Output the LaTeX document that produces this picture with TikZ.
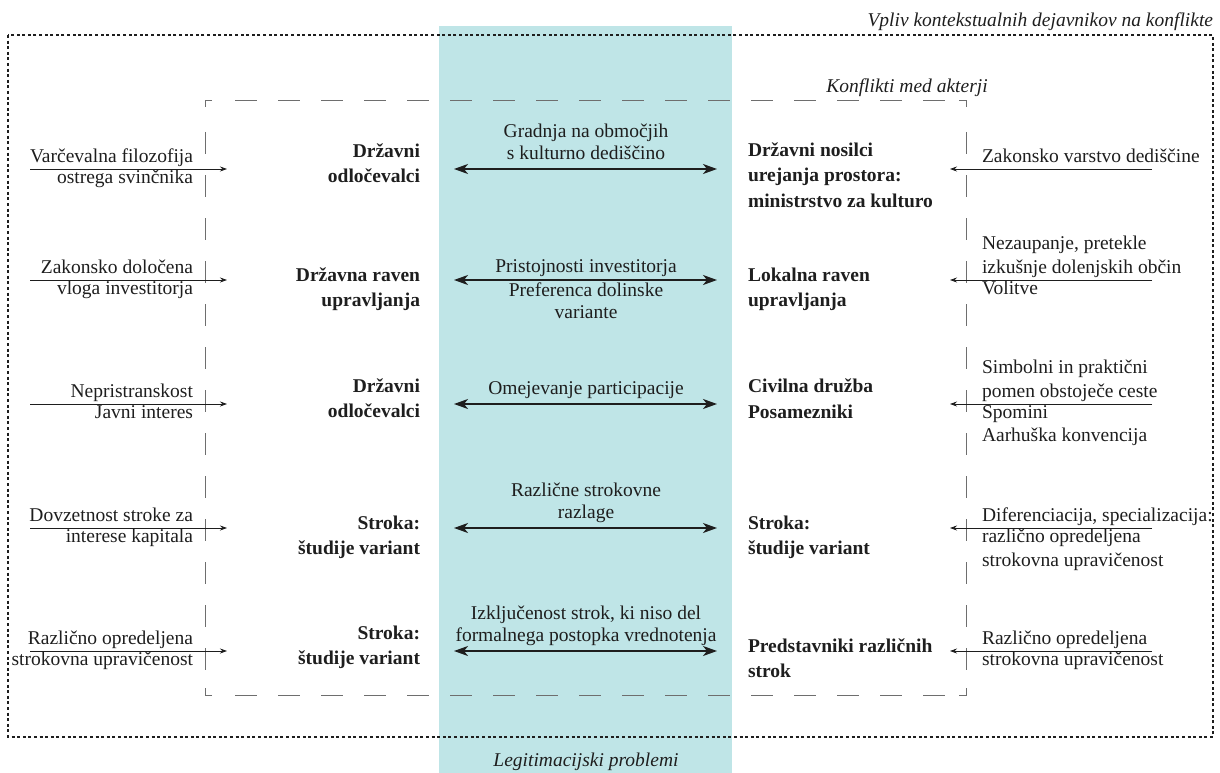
\documentclass[tikz,border=0pt]{standalone}
\usepackage{fontspec}
\setmainfont{Liberation Serif}
\usetikzlibrary{arrows.meta}
\definecolor{legit}{RGB}{191,229,231}
\definecolor{ink}{RGB}{30,30,30}
\definecolor{frame}{RGB}{110,110,110}
% fixed strut so that every line has the same height and depth
\newcommand\ks{\rule[-5pt]{0pt}{18pt}}
\begin{document}
\begin{tikzpicture}[x=1pt,y=-1pt,
  base/.style={inner sep=0pt,outer sep=0pt,text=ink,font=\fontsize{19.5}{23.5}\selectfont},
  lefttxt/.style={base,align=right},
  righttxt/.style={base,align=left},
  midtxt/.style={base,align=center,font=\fontsize{19.5}{22}\selectfont},
  actorL/.style={base,align=right,font=\fontsize{19.5}{25}\selectfont\bfseries},
  actorR/.style={base,align=left,font=\fontsize{19.5}{25.5}\selectfont\bfseries},
  heading/.style={base,font=\fontsize{19.5}{24}\selectfont\itshape},
  sidearrow/.style={draw=ink,line width=0.8pt,-{Stealth[length=7pt,width=5pt]}},
  twoway/.style={draw=ink,line width=1.6pt,{Stealth[length=14pt,width=10pt,inset=4pt]}-{Stealth[length=14pt,width=10pt,inset=4pt]}},
  dashside/.style={draw=frame,line width=0.8pt,dash pattern=on 22pt off 21pt},
  corner/.style={draw=frame,line width=0.8pt},
  dotframe/.style={draw=ink,line width=1.4pt,dash pattern=on 3pt off 2.6pt}
]
\useasboundingbox (0,0) rectangle (1220,773);

% central band: legitimacy problems
\fill[legit] (439,26) rectangle (732,773);
\node[heading,anchor=base] (legit) at (586,766) {Legitimacijski problemi};

% outer frame: contextual factors
\draw[dotframe] (8,35) rectangle (1213,737);
\node[heading,anchor=base east] (ctx) at (1213,27) {Vpliv kontekstualnih dejavnikov na konflikte};

% inner frame: conflicts between actors
\draw[corner] (212,100) -- (205,100) -- (205,107);
\draw[corner] (959,100) -- (966,100) -- (966,107);
\draw[corner] (212,695) -- (205,695) -- (205,688);
\draw[corner] (959,695) -- (966,695) -- (966,688);
\draw[dashside] (235,100) -- (945,100);
\draw[dashside] (235,695) -- (945,695);
\draw[dashside] (205,132) -- (205,680);
\draw[dashside] (966,132) -- (966,680);
\node[heading,anchor=base] (conf) at (907,93) {Konflikti med akterji};

% ---------------- row 1 ----------------
\coordinate (a1) at (30,169);  \coordinate (b1) at (227,169);
\coordinate (c1) at (454,169); \coordinate (d1) at (717,169);
\coordinate (e1) at (1152,169);\coordinate (f1) at (950,169);
\node[lefttxt,anchor=south east] (l1a) at (193,167) {Varčevalna filozofija\ks};
\node[lefttxt,anchor=north east] (l1b) at (193,170) {\ks ostrega svinčnika};
\node[actorL,anchor=north east] (p1) at (420,144) {\ks Državni\\\ks odločevalci};
\node[midtxt,anchor=south] (m1) at (586,164) {Gradnja na območjih\ks\\s kulturno dediščino\ks};
\node[actorR,anchor=north west] (q1) at (748,142.5) {\ks Državni nosilci\\\ks urejanja prostora:\\\ks ministrstvo za kulturo};
\node[righttxt,anchor=south west] (r1a) at (982,167) {Zakonsko varstvo dediščine\ks};
\draw[sidearrow] (a1) -- (b1);
\draw[twoway] (c1) -- (d1);
\draw[sidearrow] (e1) -- (f1);

% ---------------- row 2 ----------------
\coordinate (a2) at (30,280);  \coordinate (b2) at (227,280);
\coordinate (c2) at (454,280); \coordinate (d2) at (717,280);
\coordinate (e2) at (1152,280);\coordinate (f2) at (950,280);
\node[lefttxt,anchor=south east] (l2a) at (193,278) {Zakonsko določena\ks};
\node[lefttxt,anchor=north east] (l2b) at (193,281) {\ks vloga investitorja};
\node[actorL,anchor=north east] (p2) at (420,267.5) {\ks Državna raven\\\ks upravljanja};
\node[midtxt,anchor=south] (m2a) at (586,277) {Pristojnosti investitorja\ks};
\node[midtxt,anchor=north] (m2b) at (586,282.5) {\ks Preferenca dolinske\\\ks variante};
\node[actorR,anchor=north west] (q2) at (748,267.5) {\ks Lokalna raven\\\ks upravljanja};
\node[righttxt,anchor=south west] (r2a) at (982,278) {Nezaupanje, pretekle\ks\\izkušnje dolenjskih občin\ks};
\node[righttxt,anchor=north west] (r2b) at (982,281) {\ks Volitve};
\draw[sidearrow] (a2) -- (b2);
\draw[twoway] (c2) -- (d2);
\draw[sidearrow] (e2) -- (f2);

% ---------------- row 3 ----------------
\coordinate (a3) at (30,404);  \coordinate (b3) at (227,404);
\coordinate (c3) at (454,404); \coordinate (d3) at (717,404);
\coordinate (e3) at (1152,404);\coordinate (f3) at (950,404);
\node[lefttxt,anchor=south east] (l3a) at (193,402) {Nepristranskost\ks};
\node[lefttxt,anchor=north east] (l3b) at (193,405) {\ks Javni interes};
\node[actorL,anchor=north east] (p3) at (420,379) {\ks Državni\\\ks odločevalci};
\node[midtxt,anchor=south] (m3) at (586,399) {Omejevanje participacije\ks};
\node[actorR,anchor=north west] (q3) at (748,379) {\ks Civilna družba\\\ks Posamezniki};
\node[righttxt,anchor=south west] (r3a) at (982,402) {Simbolni in praktični\ks\\pomen obstoječe ceste\ks};
\node[righttxt,anchor=north west] (r3b) at (982,405) {\ks Spomini\\\ks Aarhuška konvencija};
\draw[sidearrow] (a3) -- (b3);
\draw[twoway] (c3) -- (d3);
\draw[sidearrow] (e3) -- (f3);

% ---------------- row 4 ----------------
\coordinate (a4) at (30,528);  \coordinate (b4) at (227,528);
\coordinate (c4) at (454,528); \coordinate (d4) at (717,528);
\coordinate (e4) at (1152,528);\coordinate (f4) at (950,528);
\node[lefttxt,anchor=south east] (l4a) at (193,526) {Dovzetnost stroke za\ks};
\node[lefttxt,anchor=north east] (l4b) at (193,529) {\ks interese kapitala};
\node[actorL,anchor=north east] (p4) at (420,515.5) {\ks Stroka:\\\ks študije variant};
\node[midtxt,anchor=south] (m4) at (586,523) {Različne strokovne\ks\\razlage\ks};
\node[actorR,anchor=north west] (q4) at (748,515.5) {\ks Stroka:\\\ks študije variant};
\node[righttxt,anchor=south west] (r4a) at (982,526) {Diferenciacija, specializacija:\ks};
\node[righttxt,anchor=north west] (r4b) at (982,529) {\ks različno opredeljena\\\ks strokovna upravičenost};
\draw[sidearrow] (a4) -- (b4);
\draw[twoway] (c4) -- (d4);
\draw[sidearrow] (e4) -- (f4);

% ---------------- row 5 ----------------
\coordinate (a5) at (30,651);  \coordinate (b5) at (227,651);
\coordinate (c5) at (454,651); \coordinate (d5) at (717,651);
\coordinate (e5) at (1152,651);\coordinate (f5) at (950,651);
\node[lefttxt,anchor=south east] (l5a) at (193,649) {Različno opredeljena\ks};
\node[lefttxt,anchor=north east] (l5b) at (193,652) {\ks strokovna upravičenost};
\node[actorL,anchor=north east] (p5) at (420,626) {\ks Stroka:\\\ks študije variant};
\node[midtxt,anchor=south] (m5) at (586,646) {Izključenost strok, ki niso del\ks\\formalnega postopka vrednotenja\ks};
\node[actorR,anchor=north west] (q5) at (748,638.5) {\ks Predstavniki različnih\\\ks strok};
\node[righttxt,anchor=south west] (r5a) at (982,649) {Različno opredeljena\ks};
\node[righttxt,anchor=north west] (r5b) at (982,652) {\ks strokovna upravičenost};
\draw[sidearrow] (a5) -- (b5);
\draw[twoway] (c5) -- (d5);
\draw[sidearrow] (e5) -- (f5);
\end{tikzpicture}
\end{document}
